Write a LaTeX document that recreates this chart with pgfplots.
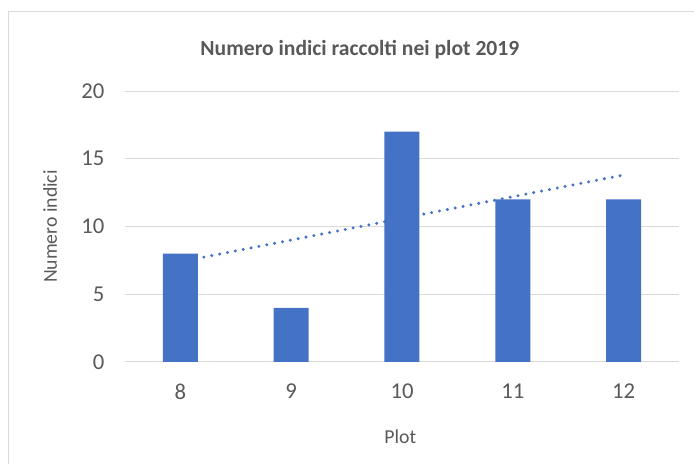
\documentclass[border=0pt]{standalone}
\usepackage{fontspec}
\setmainfont{Carlito}
\usepackage{pgfplots}
\pgfplotsset{compat=1.18}
\definecolor{barBlue}{HTML}{4472C4}
\definecolor{gridGray}{HTML}{D9D9D9}
\definecolor{txtGray}{HTML}{595959}

\begin{document}
\begin{tikzpicture}[x=0.75pt,y=0.75pt]
% page = 694 x 464 px
\useasboundingbox (0,0) rectangle (694,464);
\draw[gridGray,line width=0.75pt] (8,0) -- (8,452) -- (694,452);
\begin{axis}[
  at={(93.75pt,76.5pt)},anchor=south west,
  scale only axis,
  width=415.5pt,height=203.25pt,
  xmin=7.5,xmax=12.5,
  ymin=0,ymax=20,
  xtick={8,9,10,11,12},
  ytick={0,5,10,15,20},
  ymajorgrids=true,
  grid style={gridGray,line width=0.75pt},
  axis line style={draw=none},
  major tick length=0pt,
  /pgf/number format/assume math mode=true,
  tick label style={font=\fontsize{17}{20}\selectfont,text=txtGray},
  yticklabel style={xshift=-12pt},
  xticklabel style={yshift=-13pt},
  label style={font=\fontsize{14.8}{17}\selectfont,text=txtGray},
  xlabel={Plot},
  ylabel={Numero indici},
  xlabel style={at={(axis description cs:0.497,-0.277)},anchor=center},
  ylabel style={at={(axis description cs:-0.135,0.5)},anchor=center,rotate=0},
  title={\bfseries Numero indici raccolti nei plot 2019},
  title style={at={(axis description cs:0.424,1.125)},anchor=center,
    font=\fontsize{16.2}{19}\selectfont,text=txtGray},
]
\addplot[ybar,bar width=26.25pt,fill=barBlue,draw=none]
  coordinates {(8,8) (9,4) (10,17) (11,12) (12,12)};
% linear trendline
\addplot[barBlue,line width=2.5pt,line cap=round,dash pattern=on 0pt off 6pt]
  coordinates {(8,7.4) (12,13.8)};
\end{axis}
\end{tikzpicture}
\end{document}
